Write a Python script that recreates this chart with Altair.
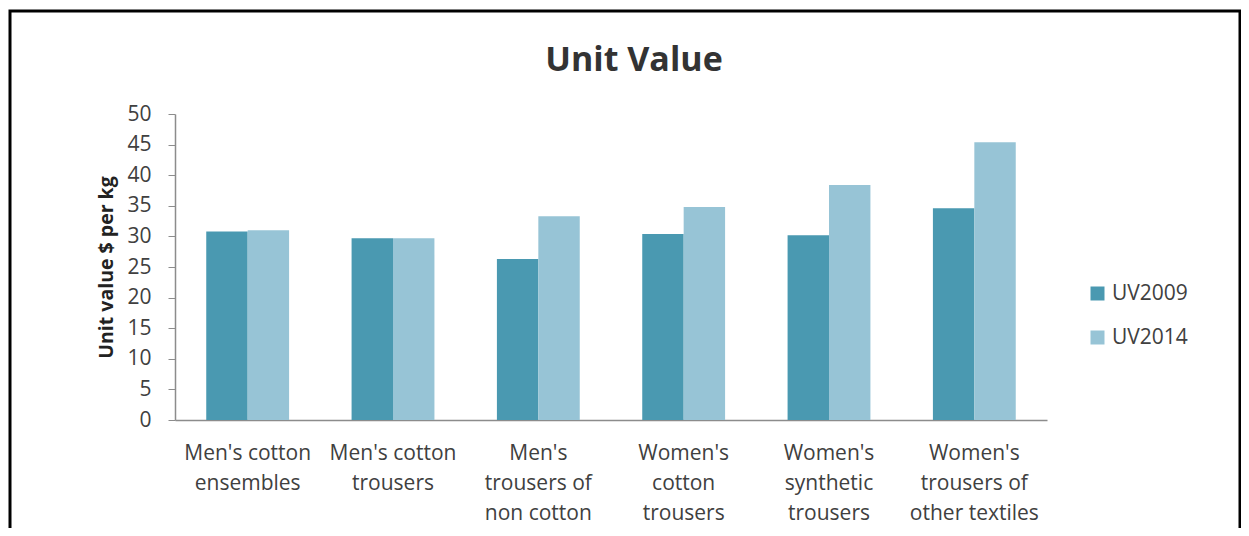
import altair as alt
import pandas as pd

categories = ["Men's cotton|ensembles", "Men's cotton|trousers", "Men's|trousers of|non cotton",
              "Women's|cotton|trousers", "Women's|synthetic|trousers", "Women's|trousers of|other textiles"]
series = ["UV2009", "UV2014"]
uv2009 = [30.8, 29.7, 26.3, 30.4, 30.2, 34.6]
uv2014 = [31.0, 29.7, 33.3, 34.8, 38.4, 45.4]
colors = ["#4A99B1", "#97C4D6"]
y_ticks = list(range(0, 51, 5))
chart_title = "Unit Value"

rows = []
for c, a, b in zip(categories, uv2009, uv2014):
    rows.append({"category": c, "series": series[0], "value": a})
    rows.append({"category": c, "series": series[1], "value": b})
df = pd.DataFrame(rows)

FONT = "Open Sans"

bars = alt.Chart(df).mark_bar().encode(
    x=alt.X("category:N", sort=categories,
            scale=alt.Scale(paddingInner=0.43, paddingOuter=0.215),
            axis=alt.Axis(title=None, labelExpr="split(datum.label, '|')", labelAngle=0,
                          ticks=False, labelPadding=22, domainColor="#8c8c8c", domainWidth=1.5,
                          labelLineHeight=30, labelFontSize=21, labelColor="#404040",
                          labelFont=FONT, labelBaseline="top")),
    xOffset=alt.XOffset("series:N", sort=series, scale=alt.Scale(paddingInner=0, paddingOuter=0)),
    y=alt.Y("value:Q", scale=alt.Scale(domain=[0, 50]),
            axis=alt.Axis(values=y_ticks, title="Unit value $ per kg", grid=False,
                          domainColor="#8c8c8c", domainWidth=1.5, tickColor="#8c8c8c",
                          tickSize=7, labelPadding=17, labelFontSize=21, labelColor="#404040",
                          labelFont=FONT, titleFont=FONT, titleFontSize=19.5, titleFontWeight="bold",
                          titleColor="#222222", titlePadding=10)),
    color=alt.Color("series:N", scale=alt.Scale(domain=series, range=colors),
                    legend=alt.Legend(title=None, orient="none", legendX=912, legendY=169,
                                      symbolType="square", symbolSize=196, symbolStrokeWidth=0,
                                      labelFont=FONT, labelFontSize=21, labelColor="#404040",
                                      rowPadding=22, labelOffset=4)),
)

frame = alt.Chart(pd.DataFrame({"a": [0]})).mark_rect(filled=False, stroke="black", strokeWidth=3).encode(
    x=alt.value(-165), x2=alt.value(1065), y=alt.value(-103), y2=alt.value(440)
)

title = alt.Chart(pd.DataFrame({"t": [chart_title]})).mark_text(
    font=FONT, fontSize=34, fontWeight="bold", color="#333333", align="center", baseline="alphabetic"
).encode(text="t:N", x=alt.value(459), y=alt.value(-43))

chart = alt.layer(bars, frame, title).properties(
    width=872, height=306,
    autosize=alt.AutoSizeParams(type="none"),
    padding={"left": 167, "top": 106, "right": 194, "bottom": 108},
).configure_view(strokeWidth=0)

chart.save("out.html", embed_options={"renderer": "svg", "actions": False})
